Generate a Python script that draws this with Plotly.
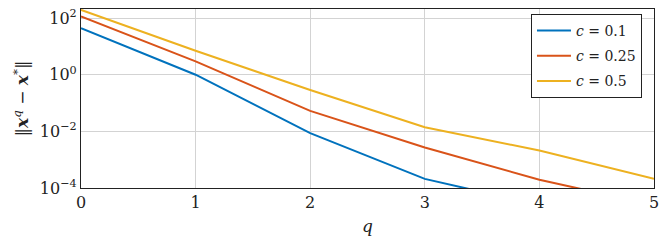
import plotly.graph_objects as go

q = [0, 1, 2, 3, 4, 5]
c_labels = ["<i>c</i> = 0.1", "<i>c</i> = 0.25", "<i>c</i> = 0.5"]
err_c01 = [44, 1.0, 0.0087, 2.1e-4, 2.5e-5]
err_c025 = [114, 2.95, 0.053, 0.0027, 1.95e-4, 2.5e-5]
err_c05 = [195, 7.0, 0.29, 0.014, 0.0021, 2.1e-4]
colors = ["#0072BD", "#D95319", "#EDB120"]
y_tickvals = [1e-4, 1e-2, 1e0, 1e2]
y_ticktext = ["10<sup>−4</sup>", "10<sup>−2</sup>", "10<sup>0</sup>", "10<sup>2</sup>"]

FONT = "DejaVu Serif"
fig = go.Figure()
for i, (ys, lab, col) in enumerate(zip([err_c01, err_c025, err_c05], c_labels, colors)):
    fig.add_trace(go.Scatter(x=q[:len(ys)], y=ys, mode="lines", name=lab,
                             legendgroup=f"g{i}",
                             line=dict(color=col, width=2)))

fig.update_layout(
    width=669, height=241,
    margin=dict(l=81, r=15, t=9, b=53, autoexpand=False),
    plot_bgcolor="white", paper_bgcolor="white",
    font=dict(family=FONT, size=16, color="#222"),
    showlegend=True,
    legend=dict(x=0.979, y=0.972, xanchor="right", yanchor="top",
                bordercolor="#222", borderwidth=1, bgcolor="white",
                font=dict(size=14), traceorder="grouped", tracegroupgap=4,
                itemwidth=34),
)
fig.update_xaxes(range=[0, 5], tickvals=[0, 1, 2, 3, 4, 5],
                 showgrid=True, gridcolor="#d3d3d3", gridwidth=1,
                 showline=True, linecolor="#222", linewidth=1.2, mirror=True,
                 zeroline=False, ticks="", automargin=False,
                 title=dict(text="<i>q</i>", standoff=8, font=dict(size=17)))
fig.update_yaxes(type="log", range=[-4, 2.32], tickvals=y_tickvals, ticktext=y_ticktext,
                 showgrid=True, gridcolor="#d3d3d3", gridwidth=1,
                 showline=True, linecolor="#222", linewidth=1.2, mirror=True,
                 zeroline=False, ticks="", automargin=False,
                 title=dict(text="‖<b><i>x</i></b><sup><i>q</i></sup> − <b><i>x</i></b><sup>*</sup>‖",
                            standoff=6, font=dict(size=17)))
fig.write_html("out.html", post_script="document.body.style.margin='0';",
               config={"displayModeBar": False})
